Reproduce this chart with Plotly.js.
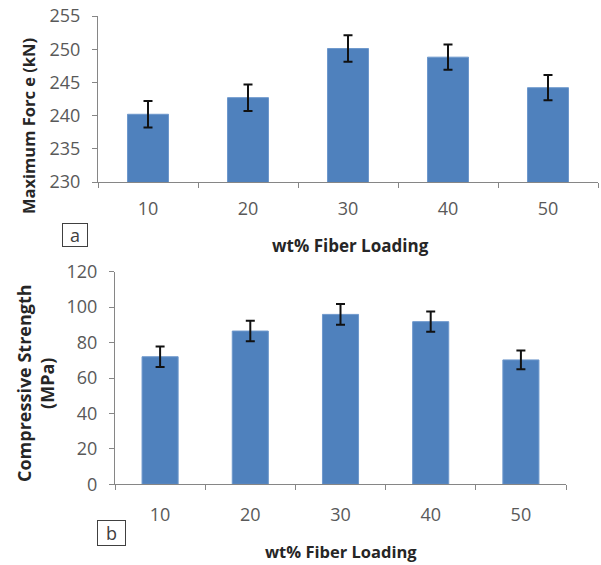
<!DOCTYPE html>
<html>
<head>
<meta charset="utf-8">
<script src="https://cdn.plot.ly/plotly-3.0.1.min.js"></script>
<style>html,body{margin:0;padding:0;background:#fff}#chart{width:601px;height:565px}</style>
</head>
<body>
<div id="chart"></div>
<script>
var categories = ["10", "20", "30", "40", "50"];
var maxForce = [240.2, 242.7, 250.1, 248.8, 244.2];
var maxForceErr = [2.0, 2.0, 2.0, 1.9, 1.9];
var compStrength = [72.0, 86.5, 95.9, 91.8, 70.2];
var compStrengthErr = [5.8, 5.8, 5.8, 5.7, 5.3];
var yTicksA = [230, 235, 240, 245, 250, 255];
var yTicksB = [0, 20, 40, 60, 80, 100, 120];

var barColor = '#4F81BD';
var axisColor = '#868686';
var tickFont = {family: 'Open Sans, sans-serif', size: 18, color: '#595959'};
function tf(s) { return {family: 'Open Sans, sans-serif', size: s, color: '#262626'}; }

var W = 601, H = 565;
function px(x) { return x / W; }
function py(y) { return (H - y) / H; }

var traces = [
  {
    type: 'bar', x: categories, y: maxForce, xaxis: 'x', yaxis: 'y',
    marker: {color: barColor, line: {color: '#6E98CC', width: 1}},
    width: 0.41,
    error_y: {type: 'data', array: maxForceErr, visible: true, color: '#111', thickness: 2, width: 4.5},
    base: 0, hoverinfo: 'none'
  },
  {
    type: 'bar', x: categories, y: compStrength, xaxis: 'x2', yaxis: 'y2',
    marker: {color: barColor, line: {color: '#6E98CC', width: 1}},
    width: 0.40,
    error_y: {type: 'data', array: compStrengthErr, visible: true, color: '#111', thickness: 2, width: 4.5},
    hoverinfo: 'none'
  }
];

var xCommon = {
  type: 'category', showline: true, linecolor: axisColor, linewidth: 1,
  ticks: 'outside', ticklen: 5, tickcolor: axisColor, tickson: 'boundaries',
  showgrid: false, zeroline: false, tickfont: tickFont, ticklabelstandoff: 10, fixedrange: true
};
var yCommon = {
  showline: true, linecolor: axisColor, linewidth: 1,
  ticks: 'outside', ticklen: 5, tickcolor: axisColor,
  showgrid: false, zeroline: false, tickfont: tickFont, ticklabelstandoff: 8, fixedrange: true
};

var layout = {
  width: W, height: H,
  margin: {l: 0, r: 0, t: 0, b: 0},
  paper_bgcolor: '#fff', plot_bgcolor: '#fff',
  showlegend: false,
  xaxis: Object.assign({}, xCommon, {domain: [px(98), px(598)], anchor: 'y'}),
  yaxis: Object.assign({}, yCommon, {domain: [py(182), py(16)], anchor: 'x', range: [230, 255], tickvals: yTicksA, ticktext: yTicksA.map(String)}),
  xaxis2: Object.assign({}, xCommon, {domain: [px(115), px(566)], anchor: 'y2', ticklabelstandoff: 14}),
  yaxis2: Object.assign({}, yCommon, {domain: [py(484.3), py(271.7)], anchor: 'x2', range: [0, 120], tickvals: yTicksB, ticktext: yTicksB.map(String)}),
  annotations: [
    {text: '<b>Maximum Forc e (kN)</b>', xref: 'paper', yref: 'paper', x: px(29), y: py(126), textangle: -90,
     showarrow: false, font: tf(16.5), xanchor: 'center', yanchor: 'middle'},
    {text: '<b>wt% Fiber Loading</b>', xref: 'paper', yref: 'paper', x: px(350), y: py(245),
     showarrow: false, font: tf(17), xanchor: 'center', yanchor: 'middle'},
    {text: '<b>Compressive Strength<br>(MPa)</b>', xref: 'paper', yref: 'paper', x: px(35), y: py(383), textangle: -90,
     showarrow: false, font: tf(18), xanchor: 'center', yanchor: 'middle'},
    {text: '<b>wt% Fiber Loading</b>', xref: 'paper', yref: 'paper', x: px(341), y: py(551),
     showarrow: false, font: tf(16.5), xanchor: 'center', yanchor: 'middle'},
    {text: 'a', xref: 'paper', yref: 'paper', x: px(75), y: py(235), showarrow: false,
     font: {family: 'Open Sans, sans-serif', size: 18, color: '#404040'}, bordercolor: '#404040', borderwidth: 1,
     width: 22, height: 20, xanchor: 'center', yanchor: 'middle', borderpad: 1, bgcolor: '#fff'},
    {text: 'b', xref: 'paper', yref: 'paper', x: px(111), y: py(533), showarrow: false,
     font: {family: 'Open Sans, sans-serif', size: 18, color: '#404040'}, bordercolor: '#404040', borderwidth: 1,
     width: 25, height: 22, xanchor: 'center', yanchor: 'middle', borderpad: 1, bgcolor: '#fff'}
  ]
};

Plotly.newPlot('chart', traces, layout, {displayModeBar: false, staticPlot: true});
</script>
</body>
</html>
